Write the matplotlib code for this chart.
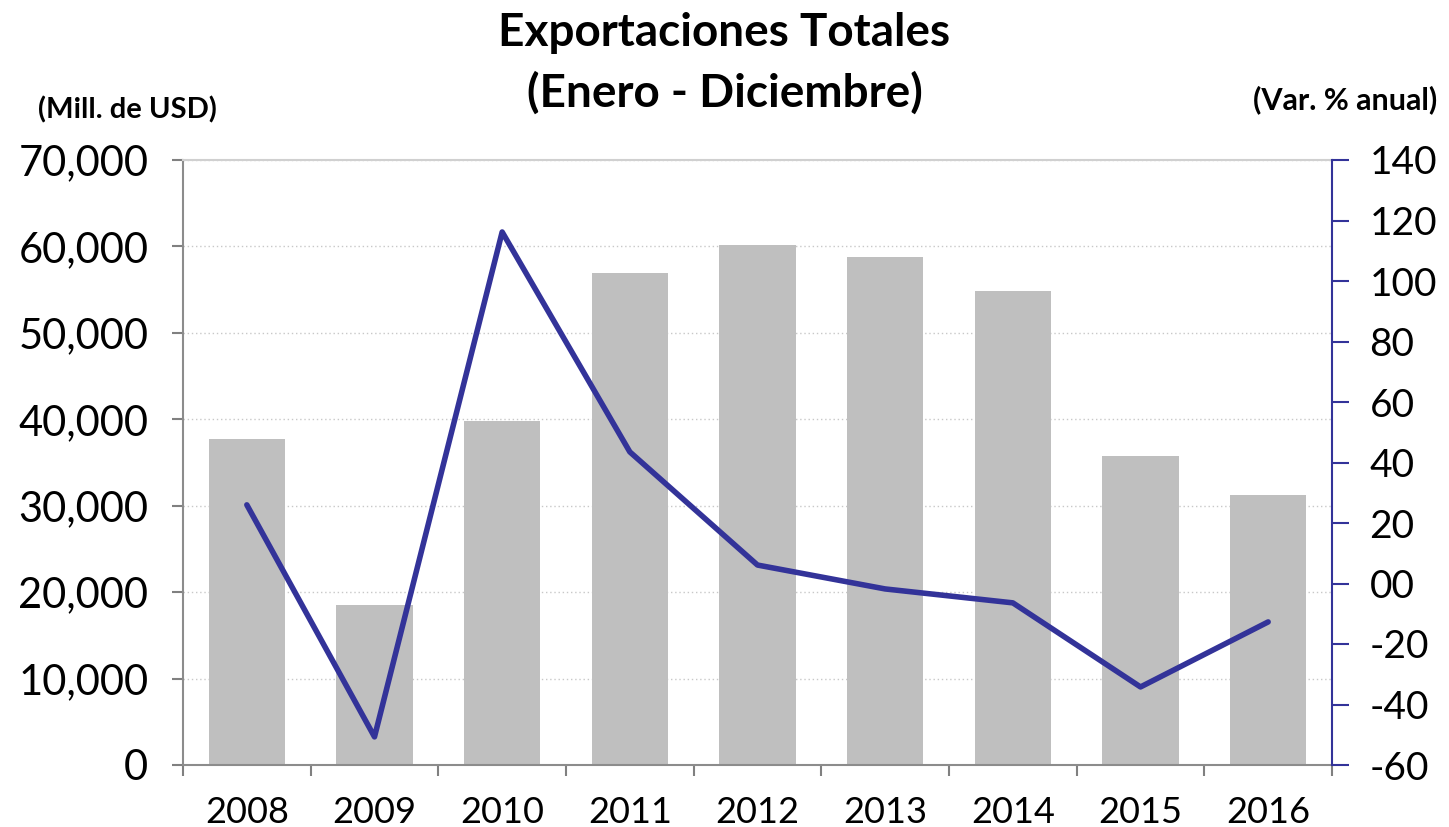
import matplotlib
matplotlib.use("Agg")
import matplotlib.pyplot as plt
from matplotlib.ticker import FuncFormatter, FixedLocator
import numpy as np

years = ["2008", "2009", "2010", "2011", "2012", "2013", "2014", "2015", "2016"]
exports = [37700, 18500, 39800, 56900, 60150, 58800, 54800, 35750, 31200]
var_pct = [26.0, -50.7, 116.2, 43.5, 6.1, -1.8, -6.4, -34.2, -12.7]
left_ticks = [0, 10000, 20000, 30000, 40000, 50000, 60000, 70000]
right_ticks = [-60, -40, -20, 0, 20, 40, 60, 80, 100, 120, 140]

plt.rcParams['font.family'] = ['Lato', 'DejaVu Sans']

fig = plt.figure(figsize=(14.49, 8.27), dpi=100)
ax = fig.add_axes([183/1449, 1-765/827, (1332-183)/1449, (765-160)/827])
x = np.arange(len(years))
ax.bar(x, exports, width=0.6, color="#BFBFBF", zorder=2)
ax.set_xlim(-0.5, len(years)-0.5)
ax.set_ylim(0, 70000)
ax.yaxis.set_major_locator(FixedLocator(left_ticks))
ax.yaxis.set_major_formatter(FuncFormatter(lambda v, p: f"{int(v):,}"))
ax.grid(axis='y', linestyle=(0, (1, 2)), color="#C8C8C8", linewidth=1, zorder=0)
ax.set_xticks(x)
ax.set_xticklabels(years)
ax.set_xticks(np.arange(-0.5, len(years), 1), minor=True)
ax.tick_params(axis='x', which='major', length=0, pad=22, labelsize=26)
ax.tick_params(axis='x', which='minor', length=8, color="#808080", width=1.5)
ax.tick_params(axis='y', length=8, color="#808080", width=1.5, labelsize=30, pad=17)
for s in ['left', 'bottom']:
    ax.spines[s].set_color("#8C8C8C")
    ax.spines[s].set_linewidth(1.5)
ax.spines['top'].set_color("#D0D0D0")
ax.spines['top'].set_linewidth(1.5)
ax.spines['right'].set_visible(False)

ax2 = ax.twinx()
ax2.plot(x, var_pct, color="#333399", linewidth=4, solid_capstyle='round', solid_joinstyle='round', zorder=5)
ax2.set_ylim(-60, 140)
ax2.yaxis.set_major_locator(FixedLocator(right_ticks))
ax2.yaxis.set_major_formatter(FuncFormatter(lambda v, p: "00" if v == 0 else f"{int(v)}"))
ax2.tick_params(axis='y', length=12, color="#333399", width=1.5, labelsize=28, pad=15)
ax2.spines['right'].set_color("#333399")
ax2.spines['right'].set_linewidth(1.5)
for s in ['left', 'top', 'bottom']:
    ax2.spines[s].set_visible(False)

fig.text(0.5, 1-33/827, "Exportaciones Totales", ha='center', va='center', fontsize=33, fontweight='bold')
fig.text(0.5, 1-93/827, "(Enero - Diciembre)", ha='center', va='center', fontsize=33, fontweight='bold')
fig.text(38/1449, 1-110/827, "(Mill. de USD)", ha='left', va='center', fontsize=21, fontweight='bold')
fig.text(1437/1449, 1-100/827, "(Var. % anual)", ha='right', va='center', fontsize=22, fontweight='bold')

fig.savefig("out.png", dpi=100)
